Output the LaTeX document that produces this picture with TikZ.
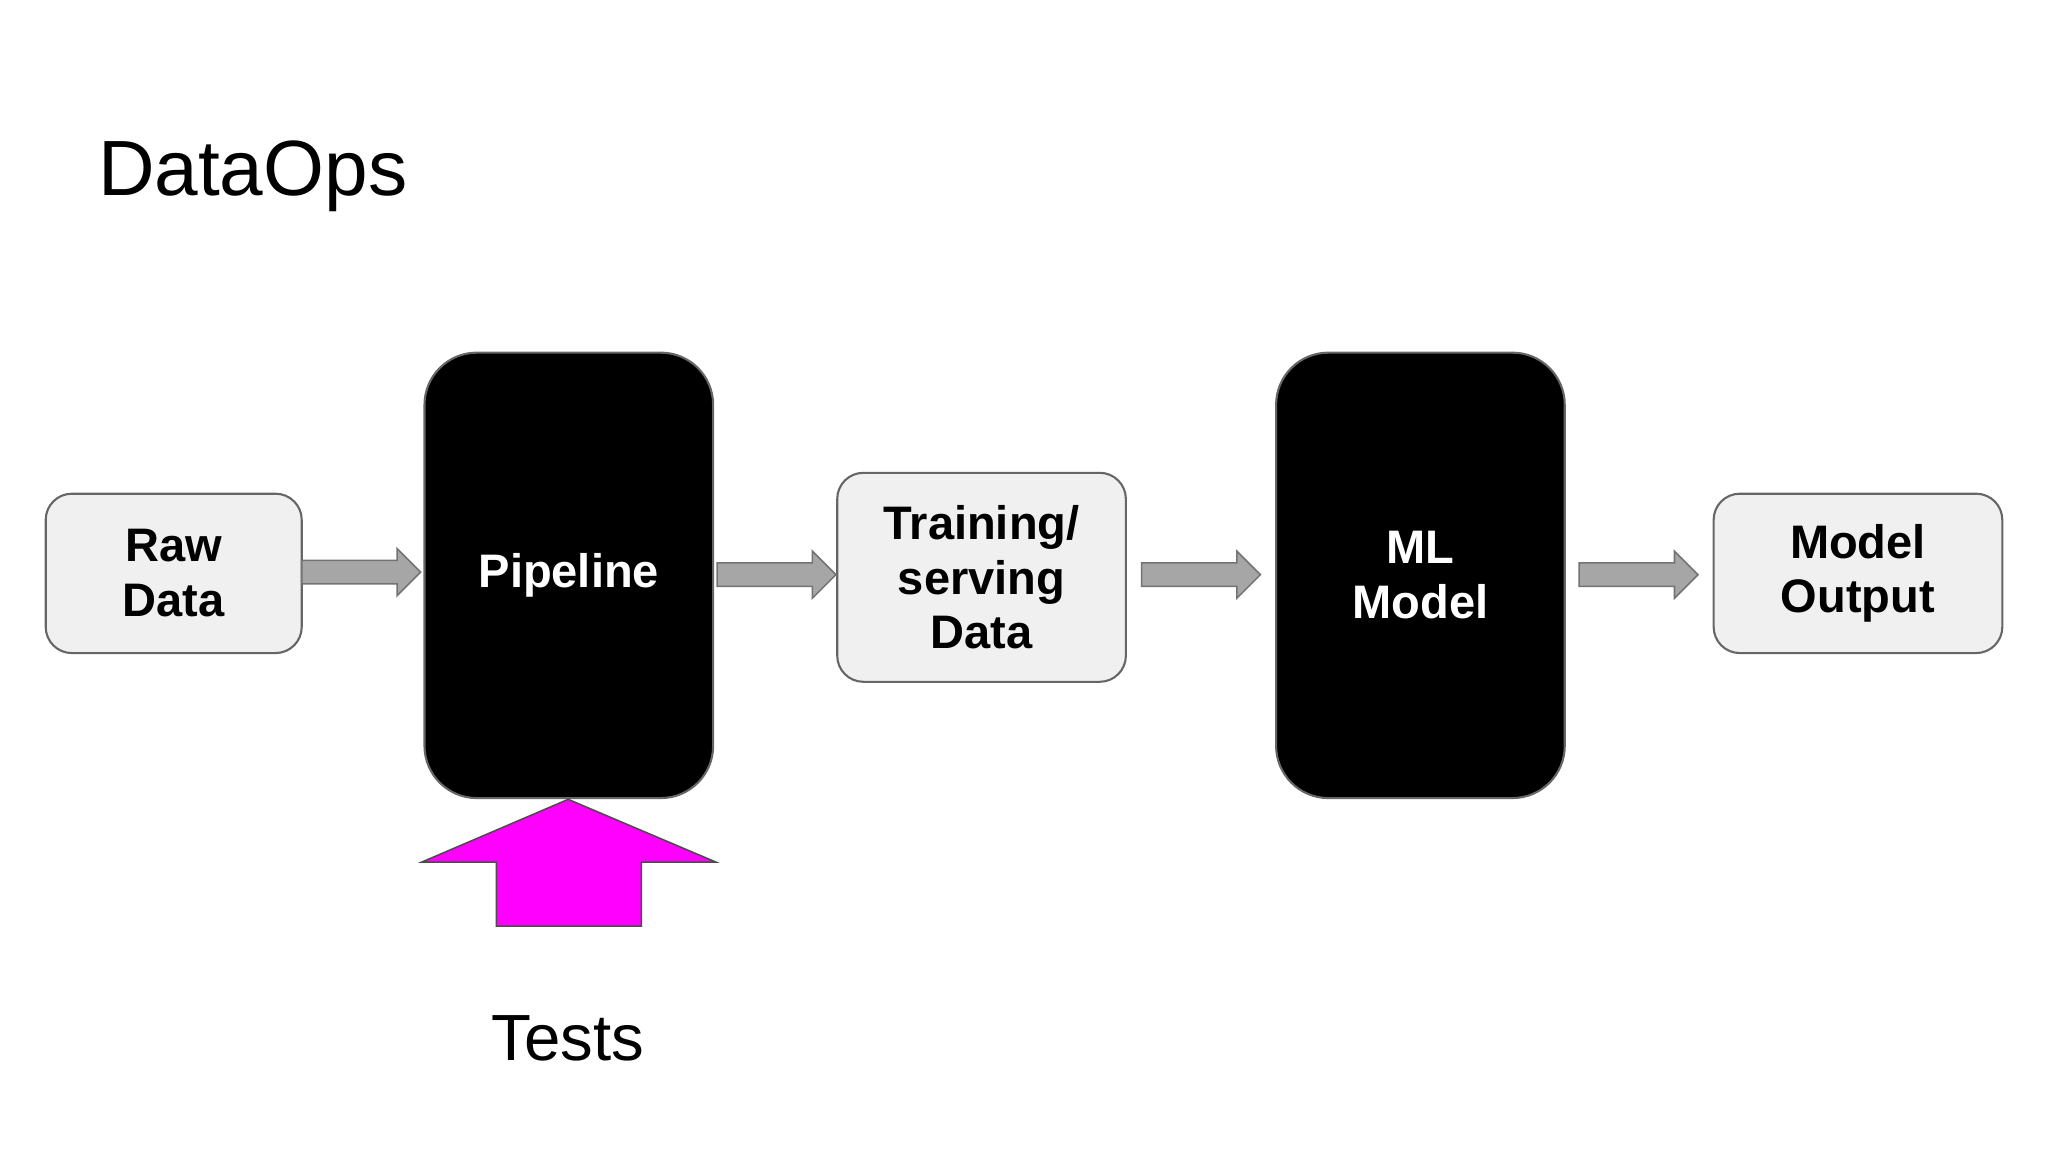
\documentclass[tikz,border=0pt]{standalone}
\usepackage{fontspec}
\setmainfont{Liberation Sans}
\begin{document}
\begin{tikzpicture}[x=0.5pt,y=-0.5pt,
  lbox/.style={draw=black!60,fill=black!6,line width=0.8pt,rounded corners=10pt,align=center,font=\bfseries\fontsize{18}{21}\selectfont,inner sep=0pt},
  bbox/.style={draw=black!60,fill=black,text=white,line width=0.8pt,rounded corners=20pt,align=center,font=\bfseries\fontsize{18}{21}\selectfont,inner sep=0pt},
  garrow/.style={draw=black!55,fill=black!35,line width=0.6pt}]
\useasboundingbox (0,0) rectangle (1568,882);
\fill[white] (0,0) rectangle (1568,882);
\node[anchor=base west,font=\fontsize{30}{36}\selectfont] (title) at (68,150) {DataOps};
\node[lbox,minimum width=98pt,minimum height=61pt] (raw) at (133,439) {Raw\\Data};
\node[bbox,minimum width=110.5pt,minimum height=170.5pt] (pipe) at (435.5,440.5) {Pipeline};
\node[lbox,minimum width=110.5pt,minimum height=80pt] (train) at (751.5,442) {Training/\\serving\\Data};
\node[bbox,minimum width=110.5pt,minimum height=170.5pt] (ml) at (1087.5,440.5) {ML\\Model};
\node[lbox,minimum width=110.5pt,minimum height=61pt] (out) at (1422.5,439) {Model\\Output};
\foreach \a/\y in {231/438,549/440,874/440,1209/440}{
  \draw[garrow] (\a,\y-9) -- (\a+73,\y-9) -- (\a+73,\y-18) -- (\a+91,\y) -- (\a+73,\y+18) -- (\a+73,\y+9) -- (\a,\y+9) -- cycle;
}
\coordinate (tip) at (435,612);
\draw[fill={rgb,255:red,255;green,0;blue,255},draw=black!70,line width=0.6pt]
  (tip) -- (548,660) -- (491,660) -- (491,709) -- (380,709) -- (380,660) -- (323,660) -- cycle;
\node[font=\fontsize{25}{30}\selectfont] (tests) at (435,795) {Tests};
\end{tikzpicture}
\end{document}
